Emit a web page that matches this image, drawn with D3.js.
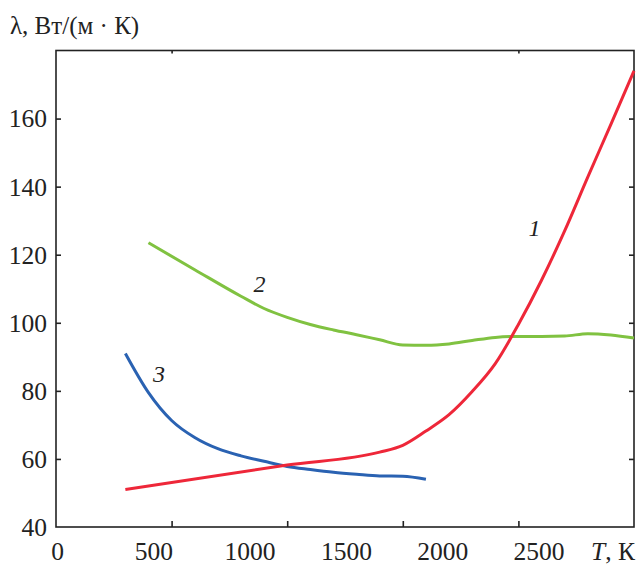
<!DOCTYPE html>
<html>
<head>
<meta charset="utf-8">
<script src="https://cdn.jsdelivr.net/npm/d3@7"></script>
<style>
    body { margin: 0; background: #fff; }
</style>
</head>
<body>
<svg width="639" height="565"></svg>
<script>
"use strict"

const FONT = "'Liberation Serif', Tinos, 'Times New Roman', 'DejaVu Serif', serif"

// curve 1 (red)
const tempRed = [300, 1000, 1400, 1500, 1600, 1700, 1800, 1900, 2000, 2100, 2200, 2300, 2400, 2500]
const lambdaRed = [51, 58.2, 62, 64, 68.2, 73, 79.8, 88, 99.5, 112.5, 127, 142.8, 158.3, 174]

// curve 2 (green)
const tempGreen = [400, 600, 800, 900, 1000, 1100, 1200, 1300, 1400, 1500, 1600, 1700, 1800, 1900, 2000, 2100, 2200, 2300, 2400, 2500]
const lambdaGreen = [123.5, 115.6, 107.8, 104.2, 101.6, 99.5, 97.9, 96.5, 95, 93.5, 93.4, 93.8, 94.8, 95.7, 96, 96, 96.1, 96.8, 96.4, 95.5]

// curve 3 (blue)
const tempBlue = [300, 400, 500, 600, 700, 800, 900, 1000, 1100, 1200, 1300, 1400, 1500, 1600]
const lambdaBlue = [91, 79.5, 71.3, 66.3, 63, 60.9, 59.3, 57.8, 56.9, 56.1, 55.5, 55, 54.9, 54]

const xTickLabels = [0, 500, 1000, 1500, 2000, 2500]
const yTickValues = [60, 80, 100, 120, 140, 160]
const yLabelValues = [40, 60, 80, 100, 120, 140, 160]

const curveLabels = [
    { text: "1", t: 2070, v: 128 },
    { text: "2", t: 880, v: 111.5 },
    { text: "3", t: 445, v: 85 }
]

const svg = d3.select("svg")

const plotLeft = 56, plotRight = 634, plotTop = 50.5, plotBottom = 527

const x = d3.scaleLinear().domain([0, 2500]).range([plotLeft, plotRight])
const y = d3.scaleLinear().domain([40, 180]).range([plotBottom, plotTop])
// the printed tick numbers sit on their own, tighter spacing
const xLabel = d3.scaleLinear().domain([0, 2500]).range([57.5, 539])

svg.append("g")
    .attr("transform", `translate(${plotLeft},0)`)
    .call(d3.axisLeft(y).tickValues(yTickValues).tickSize(-5).tickFormat(""))
svg.append("g")
    .attr("transform", `translate(${plotRight},0)`)
    .call(d3.axisRight(y).tickValues(yTickValues).tickSize(-5).tickFormat(""))
svg.append("g")
    .attr("transform", `translate(0,${plotBottom})`)
    .call(d3.axisBottom(x).tickValues([500, 1000, 1500, 2000]).tickSize(-6).tickFormat(""))
svg.append("g")
    .attr("transform", `translate(0,${plotTop})`)
    .call(d3.axisTop(x).tickValues([500, 2000]).tickSize(-3).tickFormat(""))

svg.selectAll(".domain").remove()
svg.selectAll(".tick line").attr("stroke", "#222").attr("stroke-width", 1.6)

svg.append("rect")
    .attr("x", plotLeft)
    .attr("y", plotTop)
    .attr("width", plotRight - plotLeft)
    .attr("height", plotBottom - plotTop)
    .attr("fill", "none")
    .attr("stroke", "#222")
    .attr("stroke-width", 1.6)

svg.selectAll(".ylab")
    .data(yLabelValues)
    .enter()
    .append("text")
    .attr("class", "ylab")
    .attr("x", 47)
    .attr("y", (d) => y(d))
    .attr("dy", "0.35em")
    .attr("text-anchor", "end")
    .attr("font-family", FONT)
    .attr("font-size", "25.5px")
    .attr("fill", "#222")
    .text((d) => d)

svg.selectAll(".xlab")
    .data(xTickLabels)
    .enter()
    .append("text")
    .attr("class", "xlab")
    .attr("x", (d) => xLabel(d))
    .attr("y", 560)
    .attr("text-anchor", "middle")
    .attr("font-family", FONT)
    .attr("font-size", "25.5px")
    .attr("fill", "#222")
    .text((d) => d)

const xTitle = svg.append("text")
    .attr("x", 613)
    .attr("y", 560)
    .attr("text-anchor", "middle")
    .attr("font-family", FONT)
    .attr("font-size", "25.5px")
    .attr("fill", "#222")
xTitle.append("tspan").attr("font-style", "italic").text("T")
xTitle.append("tspan").text(", К")

svg.append("text")
    .attr("x", 10)
    .attr("y", 34)
    .attr("font-family", FONT)
    .attr("font-size", "25px")
    .attr("fill", "#222")
    .text("λ, Вт/(м · К)")

const line = d3.line()
    .x((d) => x(d[0]))
    .y((d) => y(d[1]))
    .curve(d3.curveMonotoneX)

const series = [
    { temps: tempGreen, values: lambdaGreen, color: "#80c241" },
    { temps: tempBlue, values: lambdaBlue, color: "#2a62b2" },
    { temps: tempRed, values: lambdaRed, color: "#ee2739" }
]

series.forEach((s) => {
    svg.append("path")
        .datum(s.temps.map((t, i) => [t, s.values[i]]))
        .attr("fill", "none")
        .attr("stroke", s.color)
        .attr("stroke-width", 3)
        .attr("d", line)
})

svg.selectAll(".clab")
    .data(curveLabels)
    .enter()
    .append("text")
    .attr("class", "clab")
    .attr("x", (d) => x(d.t))
    .attr("y", (d) => y(d.v))
    .attr("dy", "0.35em")
    .attr("text-anchor", "middle")
    .attr("font-family", FONT)
    .attr("font-size", "24px")
    .attr("font-style", "italic")
    .attr("fill", "#222")
    .text((d) => d.text)
</script>
</body>
</html>
